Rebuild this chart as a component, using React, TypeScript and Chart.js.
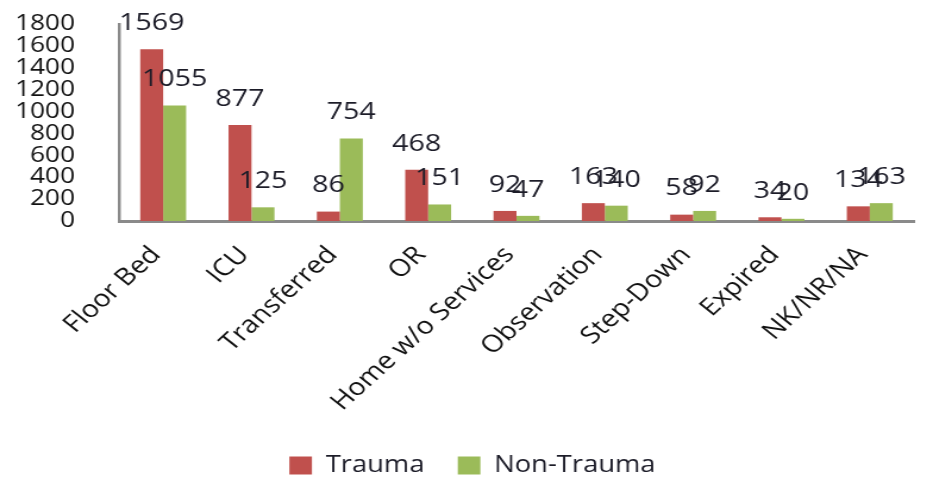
import React, { useEffect, useRef } from "react";
import { Chart, registerables } from "chart.js";

Chart.register(...registerables);

const categories = [
  "Floor Bed",
  "ICU",
  "Transferred",
  "OR",
  "Home w/o Services",
  "Observation",
  "Step-Down",
  "Expired",
  "NK/NR/NA",
];
const trauma = [1569, 877, 86, 468, 92, 163, 58, 34, 134];
const nonTrauma = [1055, 125, 754, 151, 47, 140, 92, 20, 163];
const yTicks = [0, 200, 400, 600, 800, 1000, 1200, 1400, 1600, 1800];

const PAGE_W = 933;
const PAGE_H = 477;
const STRETCH = 1.19;
const CANVAS_W = Math.round(PAGE_W / STRETCH);

const FONT = "'Open Sans', 'DejaVu Sans', sans-serif";

const valueLabels = {
  id: "valueLabels",
  afterDatasetsDraw(chart: any) {
    const ctx = chart.ctx;
    ctx.save();
    ctx.font = `24px ${FONT}`;
    ctx.fillStyle = "#1c1c28";
    ctx.textAlign = "center";
    ctx.textBaseline = "middle";
    chart.data.datasets.forEach((ds: any, di: number) => {
      const meta = chart.getDatasetMeta(di);
      meta.data.forEach((el: any, i: number) => {
        ctx.fillText(String(ds.data[i]), el.x, el.y - 26);
      });
    });
    ctx.restore();
  },
};

const legendShift = {
  id: "legendShift",
  afterLayout(chart: any) {
    const lg = chart.legend;
    if (lg) {
      lg.left += 13;
      lg.right += 13;
    }
  },
};

export default function App() {
  const ref = useRef<HTMLCanvasElement | null>(null);

  useEffect(() => {
    document.body.style.margin = "0";
    const canvas = ref.current!;
    const chart = new Chart(canvas, {
      type: "bar",
      data: {
        labels: categories,
        datasets: [
          {
            label: "Trauma",
            data: trauma,
            backgroundColor: "#C0504D",
            borderWidth: 0,
          },
          {
            label: "Non-Trauma",
            data: nonTrauma,
            backgroundColor: "#9BBB59",
            borderWidth: 0,
          },
        ],
      },
      options: {
        responsive: false,
        animation: false,
        devicePixelRatio: 1,
        layout: { padding: { left: 0, right: 16, top: 24, bottom: -10 } },
        datasets: {
          bar: { categoryPercentage: 0.52, barPercentage: 1.0 },
        },
        plugins: {
          legend: {
            display: true,
            position: "bottom",
            labels: {
              font: { family: FONT, size: 23 },
              color: "#1c1c28",
              boxWidth: 19,
              boxHeight: 18,
              padding: 28,
            },
          },
          tooltip: { enabled: false },
        },
        scales: {
          x: {
            grid: { display: false, drawTicks: false },
            border: { display: true, color: "#8a8a8a", width: 3 },
            ticks: {
              autoSkip: false,
              maxRotation: 47,
              minRotation: 47,
              padding: 20,
              labelOffset: -6,
              color: "#111",
              font: { family: FONT, size: 24 },
            },
            afterFit(scale: any) {
              scale.height = 205;
            },
          },
          y: {
            min: 0,
            max: 1800,
            grid: { display: false, drawTicks: false },
            border: { display: true, color: "#8a8a8a", width: 2.5 },
            afterBuildTicks(scale: any) {
              scale.ticks = yTicks.map((v) => ({ value: v }));
            },
            ticks: {
              autoSkip: false,
              padding: 37,
              color: "#111",
              font: { family: FONT, size: 22 },
              callback: (v: any) => String(v),
            },
            afterFit(scale: any) {
              scale.width = 100;
              scale.paddingTop = 0;
              scale.paddingBottom = 0;
            },
          },
        },
      },
      plugins: [valueLabels, legendShift],
    });
    return () => chart.destroy();
  }, []);

  return (
    <div
      style={{
        position: "fixed",
        left: 0,
        top: 0,
        width: PAGE_W,
        height: PAGE_H,
        overflow: "hidden",
        background: "#fff",
      }}
    >
      <canvas
        ref={ref}
        width={CANVAS_W}
        height={PAGE_H}
        style={{
          width: CANVAS_W,
          height: PAGE_H,
          transform: `scaleX(${PAGE_W / CANVAS_W})`,
          transformOrigin: "0 0",
          display: "block",
        }}
      />
    </div>
  );
}
